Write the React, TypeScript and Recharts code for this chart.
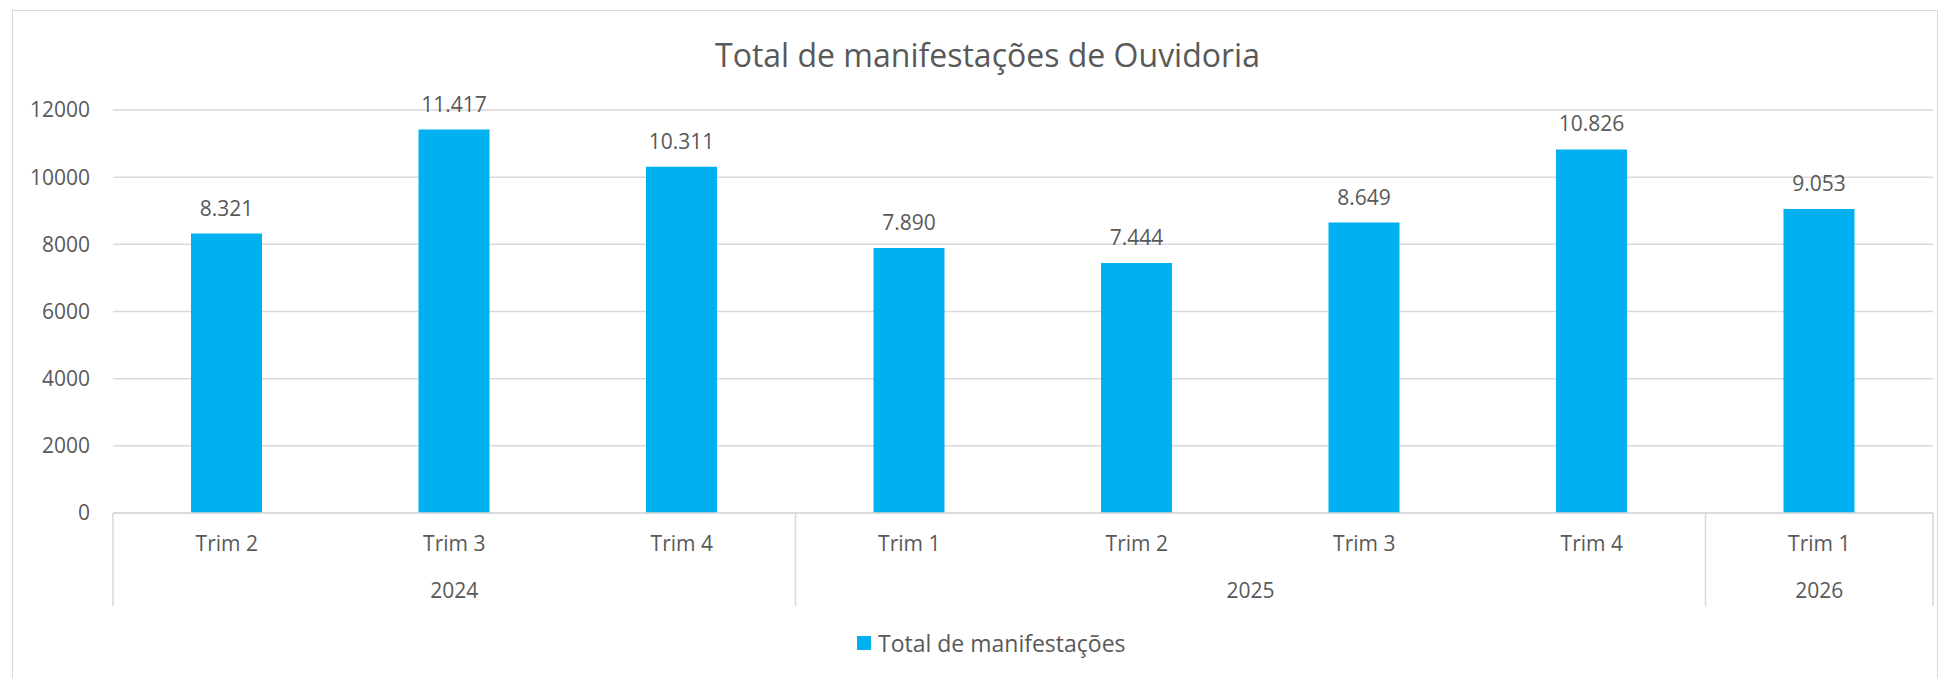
import React from "react";
import { BarChart, Bar, CartesianGrid, XAxis, YAxis, LabelList } from "recharts";

const trimestres = ["Trim 2", "Trim 3", "Trim 4", "Trim 1", "Trim 2", "Trim 3", "Trim 4", "Trim 1"];
const anos = ["2024", "2024", "2024", "2025", "2025", "2025", "2025", "2026"];
const totais = [8321, 11417, 10311, 7890, 7444, 8649, 10826, 9053];
const yTicks = [0, 2000, 4000, 6000, 8000, 10000, 12000];

const data = trimestres.map((trim, i) => ({
  key: `${anos[i]}-${i}`,
  trim,
  ano: anos[i],
  total: totais[i],
}));

const W = 1942;
const H = 678;
const X_AXIS_H = 30;
const margin = { top: 110, right: 9, bottom: 165 - X_AXIS_H, left: 13 };
const Y_AXIS_W = 100;
const PLOT_W = W - margin.left - margin.right - Y_AXIS_W;
const BAND = PLOT_W / data.length;

const FONT = "'Open Sans', sans-serif";
const TEXT = "#595959";
const GRID = "#D9D9D9";
const BLUE = "#00B0F0";

const fmt = (v: any) => String(v).replace(/\B(?=(\d{3})+(?!\d))/g, ".");

// multi-level category axis: quarter on first row, year groups on second row
const TrimTick = (props: any) => {
  const { x, y, index } = props;
  const d = data[index];
  if (!d) return null;
  const isStart = index === 0 || data[index - 1].ano !== d.ano;
  const isLast = index === data.length - 1;
  let groupLen = 0;
  if (isStart) {
    let j = index;
    while (j < data.length && data[j].ano === d.ano) {
      groupLen++;
      j++;
    }
  }
  return (
    <g>
      <text x={x} y={y + 38} textAnchor="middle" fill={TEXT} fontSize={21} fontFamily={FONT}>
        {d.trim}
      </text>
      {isStart && (
        <>
          <line x1={x - BAND / 2} x2={x - BAND / 2} y1={y} y2={y + 93} stroke={GRID} strokeWidth={1.5} />
          <text
            x={x + ((groupLen - 1) * BAND) / 2}
            y={y + 85}
            textAnchor="middle"
            fill={TEXT}
            fontSize={21}
            fontFamily={FONT}
          >
            {d.ano}
          </text>
        </>
      )}
      {isLast && (
        <line x1={x + BAND / 2} x2={x + BAND / 2} y1={y} y2={y + 93} stroke={GRID} strokeWidth={1.5} />
      )}
    </g>
  );
};

export default function App() {
  return (
    <div style={{ position: "absolute", left: 0, top: 0, width: W, height: H, background: "#fff", overflow: "hidden" }}>
      <div
        style={{
          position: "absolute",
          left: 12,
          top: 10,
          width: 1926,
          height: 720,
          border: `1.5px solid ${GRID}`,
          boxSizing: "border-box",
        }}
      />
      <div
        style={{
          position: "absolute",
          left: 0,
          top: 33,
          width: 1975,
          textAlign: "center",
          fontFamily: FONT,
          fontSize: 32,
          color: TEXT,
          lineHeight: "44px",
        }}
      >
        Total de manifestações de Ouvidoria
      </div>
      <div style={{ position: "absolute", left: 0, top: 0 }}>
        <BarChart width={W} height={H} data={data} margin={margin}>
          <CartesianGrid vertical={false} stroke={GRID} strokeWidth={1.5} />
          <XAxis
            dataKey="key"
            height={X_AXIS_H}
            axisLine={{ stroke: GRID, strokeWidth: 1.5 }}
            tickLine={false}
            tickSize={0}
            tickMargin={0}
            interval={0}
            tick={<TrimTick />}
          />
          <YAxis
            width={Y_AXIS_W}
            domain={[0, 12000]}
            ticks={yTicks}
            axisLine={false}
            tickLine={false}
            tickSize={0}
            tickMargin={23}
            tick={{ fill: TEXT, fontSize: 21, fontFamily: FONT }}
          />
          <Bar dataKey="total" fill={BLUE} barSize={71} isAnimationActive={false}>
            <LabelList
              dataKey="total"
              position="top"
              offset={18}
              formatter={fmt}
              fill={TEXT}
              fontSize={21}
              fontFamily={FONT}
            />
          </Bar>
        </BarChart>
      </div>
      <div
        style={{
          position: "absolute",
          left: 857,
          top: 626,
          display: "flex",
          alignItems: "center",
          fontFamily: FONT,
          fontSize: 23,
          color: TEXT,
          lineHeight: "34px",
        }}
      >
        <span style={{ display: "inline-block", width: 14, height: 14, background: BLUE, marginRight: 7 }} />
        Total de manifestações
      </div>
    </div>
  );
}
